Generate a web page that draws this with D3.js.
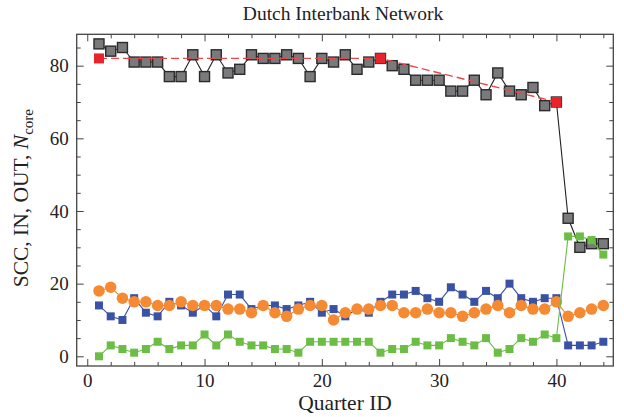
<!DOCTYPE html>
<html>
<head>
<meta charset="utf-8">
<script src="https://cdn.jsdelivr.net/npm/d3@7"></script>
<style>
  html, body { margin: 0; padding: 0; background: #fff; }
  svg text { font-family: "Liberation Serif", "DejaVu Serif", serif; fill: #222; }
</style>
</head>
<body>
<div id="chart"></div>
<script>
// Dutch Interbank Network - component sizes per quarter

const quarters = [1, 2, 3, 4, 5, 6, 7, 8, 9, 10, 11, 12, 13, 14, 15, 16, 17, 18, 19, 20, 21, 22,
    23, 24, 25, 26, 27, 28, 29, 30, 31, 32, 33, 34, 35, 36, 37, 38, 39, 40, 41, 42, 43, 44];

const scc = [86, 84, 85, 81, 81, 81, 77, 77, 83, 77, 83, 78, 79, 83, 82, 82, 83, 82, 77, 82, 81, 83,
    79, 81, 82, 80, 79, 76, 76, 76, 73, 73, 76, 72, 78, 73, 72, 74, 69, 70, 38, 30, 31, 31];

const inSize = [14, 11, 10, 16, 12, 11, 15, 14, 12, 14, 11, 17, 17, 13, 14, 14, 13, 14, 15, 12, 13, 11,
    13, 12, 15, 17, 17, 18, 16, 15, 19, 17, 15, 18, 16, 20, 16, 15, 16, 16, 3, 3, 3, 4];

const outSize = [18, 19, 16, 15, 15, 14, 14, 15, 14, 14, 14, 13, 13, 12, 14, 12, 11, 13, 14, 14, 10, 12,
    13, 13, 14, 14, 12, 12, 13, 12, 12, 11, 12, 13, 14, 12, 14, 13, 13, 15, 11, 12, 13, 14];

const otherSize = [0, 3, 2, 1, 2, 4, 2, 3, 3, 6, 3, 6, 4, 3, 3, 2, 2, 1, 4, 4, 4, 4,
    4, 4, 1, 2, 2, 4, 3, 3, 5, 4, 3, 5, 1, 2, 5, 4, 6, 5, 33, 33, 32, 28];

const coreQuarters = [1, 25, 40];
const coreSize = [82, 82, 70];

const xTicks = [0, 10, 20, 30, 40];
const yTicks = [0, 20, 40, 60, 80];

const width = 624;
const height = 417;
const plot = { left: 76.7, right: 613.3, top: 34.3, bottom: 366 };

const svg = d3.select('#chart').append('svg')
    .attr('width', width)
    .attr('height', height);

const x = d3.scaleLinear().domain([-0.9, 44.85]).range([plot.left, plot.right]);
const y = d3.scaleLinear().domain([-2.67, 88.64]).range([plot.bottom, plot.top]);

const frameColor = '#444';

// Frame ticks (inward, on all four sides)
function frameAxis(axisFn, scale, ticks, len, translate, showLabels) {
    const g = svg.append('g')
        .attr('transform', translate)
        .call(axisFn(scale)
            .tickValues(ticks)
            .tickSizeInner(-len)
            .tickSizeOuter(0)
            .tickPadding(showLabels ? 8 : 0)
            .tickFormat(showLabels ? d3.format('d') : ''));
    g.select('.domain').remove();
    g.selectAll('line').attr('stroke', frameColor).attr('stroke-width', 1);
    g.selectAll('text')
        .style('font-family', '"Liberation Serif", serif')
        .style('font-size', '19px')
        .attr('fill', '#222');
    return g;
}

const xMinor = d3.range(0, 45, 2).filter(v => v % 10 !== 0);
const yMinor = d3.range(0, 90, 5).filter(v => v % 20 !== 0);

frameAxis(d3.axisBottom, x, xTicks, 7, `translate(0,${plot.bottom})`, true);
frameAxis(d3.axisBottom, x, xMinor, 4, `translate(0,${plot.bottom})`, false);
frameAxis(d3.axisTop, x, xTicks, 7, `translate(0,${plot.top})`, false);
frameAxis(d3.axisTop, x, xMinor, 4, `translate(0,${plot.top})`, false);
frameAxis(d3.axisLeft, y, yTicks, 7, `translate(${plot.left},0)`, true);
frameAxis(d3.axisLeft, y, yMinor, 4, `translate(${plot.left},0)`, false);
frameAxis(d3.axisRight, y, yTicks, 7, `translate(${plot.right},0)`, false);
frameAxis(d3.axisRight, y, yMinor, 4, `translate(${plot.right},0)`, false);

svg.append('rect')
    .attr('x', plot.left)
    .attr('y', plot.top)
    .attr('width', plot.right - plot.left)
    .attr('height', plot.bottom - plot.top)
    .attr('fill', 'none')
    .attr('stroke', frameColor)
    .attr('stroke-width', 1.3);

const marks = svg.append('g');

function drawSeries(xs, ys, opts) {
    const pts = xs.map((q, i) => [q, ys[i]]);
    const line = d3.line().x(d => x(d[0])).y(d => y(d[1]));
    marks.append('path')
        .attr('d', line(pts))
        .attr('fill', 'none')
        .attr('stroke', opts.lineColor)
        .attr('stroke-width', opts.lineWidth || 1.2)
        .attr('stroke-dasharray', opts.dash || null);

    const g = marks.append('g');
    if (opts.shape === 'circle') {
        g.selectAll('circle')
            .data(pts)
            .enter().append('circle')
            .attr('cx', d => x(d[0]))
            .attr('cy', d => y(d[1]))
            .attr('r', opts.size / 2)
            .attr('fill', opts.fill);
    } else {
        g.selectAll('rect')
            .data(pts)
            .enter().append('rect')
            .attr('x', d => x(d[0]) - opts.size / 2)
            .attr('y', d => y(d[1]) - opts.size / 2)
            .attr('width', opts.size)
            .attr('height', opts.size)
            .attr('fill', opts.fill)
            .attr('stroke', opts.stroke || 'none')
            .attr('stroke-width', opts.strokeWidth || 0);
    }
}

drawSeries(quarters, scc, {
    shape: 'square', size: 10, fill: '#7a7a7c', stroke: '#2b2b2b', strokeWidth: 1.4,
    lineColor: '#222', lineWidth: 1.1
});
drawSeries(coreQuarters, coreSize, {
    shape: 'square', size: 10, fill: '#e8242a',
    lineColor: '#e8484c', lineWidth: 1.4, dash: '8,4'
});
drawSeries(quarters, inSize, {
    shape: 'square', size: 8, fill: '#3a52a4', lineColor: '#3a52a4', lineWidth: 1.1
});
drawSeries(quarters, outSize, {
    shape: 'circle', size: 11.5, fill: '#f68a32', lineColor: '#f68a32', lineWidth: 1.1
});
drawSeries(quarters, otherSize, {
    shape: 'square', size: 8, fill: '#6bbd45', lineColor: '#6bbd45', lineWidth: 1.1
});

// Title and axis labels
svg.append('text')
    .attr('x', 343)
    .attr('y', 20)
    .attr('text-anchor', 'middle')
    .style('font-size', '19.5px')
    .text('Dutch Interbank Network');

svg.append('text')
    .attr('x', (plot.left + plot.right) / 2)
    .attr('y', 410)
    .attr('text-anchor', 'middle')
    .style('font-size', '21.5px')
    .text('Quarter ID');

const yLabel = svg.append('text')
    .attr('transform', `translate(28,${(plot.top + plot.bottom) / 2 - 2}) rotate(-90)`)
    .attr('text-anchor', 'middle')
    .style('font-size', '21.5px');
yLabel.append('tspan').text('SCC, IN, OUT, ');
yLabel.append('tspan').attr('font-style', 'italic').text('N');
yLabel.append('tspan').attr('dy', 5).style('font-size', '15px').text('core');
</script>
</body>
</html>
